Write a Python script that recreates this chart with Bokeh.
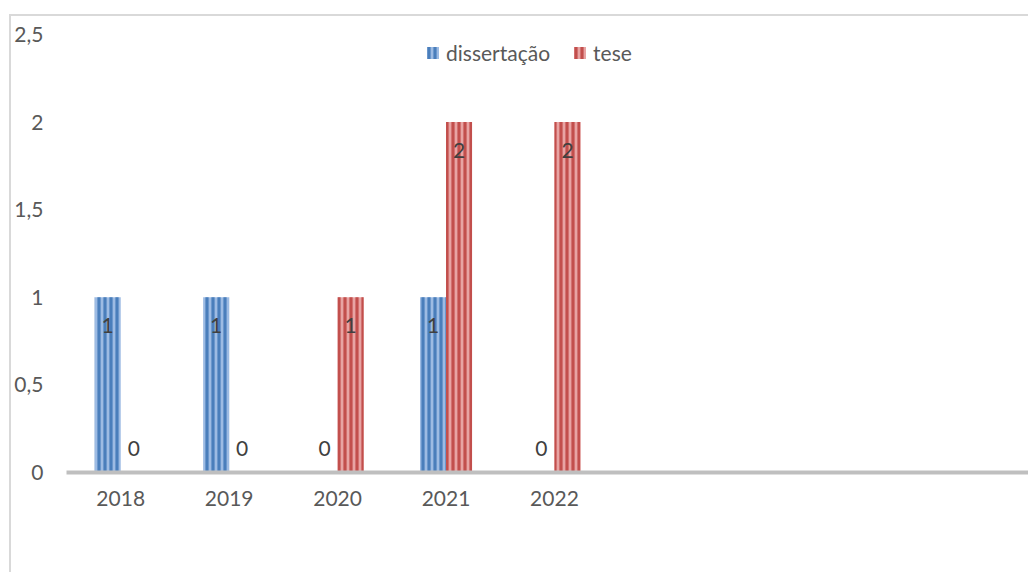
import numpy as np
from bokeh.plotting import figure
from bokeh.models import ColumnDataSource, Range1d, FixedTicker
from bokeh.core.properties import value
from bokeh.transform import dodge
from bokeh.embed import file_html
from bokeh.resources import INLINE

# ---- data ----
years = ["2018", "2019", "2020", "2021", "2022"]
dissertacao = [1, 1, 0, 1, 0]
tese = [0, 0, 1, 2, 2]
y_ticks = [0, 0.5, 1, 1.5, 2, 2.5]
y_tick_labels = ["0", "0,5", "1", "1,5", "2", "2,5"]
series_names = ["dissertação", "tese"]

FONT = "Lato"
FS = "21px"
TXT = "#595959"
n_slots = 8.89          # the category axis continues past the 5 years
bar_w = 0.24

xpos = np.arange(len(years)) + 0.5

def lab_offset(vals):
    return [28 if v > 0 else -24 for v in vals]

src = ColumnDataSource(dict(
    x=xpos, d=dissertacao, t=tese,
    d_lab=[str(v) for v in dissertacao], t_lab=[str(v) for v in tese],
    d_off=lab_offset(dissertacao), t_off=lab_offset(tese),
))

# page offset of the chart box: left 9 px, top 14 px, 2 px border
p = figure(width=1019, height=558, output_backend="svg", toolbar_location=None,
           x_range=Range1d(0, n_slots), y_range=Range1d(0, 2.5),
           min_border_left=55, min_border_right=0, min_border_top=18,
           min_border_bottom=102)
p.styles = {"margin-left": "9px", "margin-top": "14px",
            "border-left": "2px solid #d9d9d9", "border-top": "2px solid #d9d9d9"}
p.outline_line_color = None
p.background_fill_color = "white"
p.border_fill_color = "white"
p.xgrid.visible = False
p.ygrid.visible = False

p.vbar(x=dodge("x", -bar_w / 2, range=p.x_range), top="d", width=bar_w, source=src,
       fill_color="#9dbbe3", line_color=None,
       hatch_pattern="vertical_line", hatch_color="#4a7ebb",
       hatch_scale=6, hatch_weight=3.2, legend_label=series_names[0])
p.vbar(x=dodge("x", bar_w / 2, range=p.x_range), top="t", width=bar_w, source=src,
       fill_color="#e8a4a3", line_color=None,
       hatch_pattern="vertical_line", hatch_color="#c24f4c",
       hatch_scale=6, hatch_weight=3.2, legend_label=series_names[1])

p.text(x=dodge("x", -bar_w / 2, range=p.x_range), y="d", text="d_lab", y_offset="d_off",
       source=src, text_font=value(FONT), text_font_size=FS, text_color="#404040",
       text_align="center", text_baseline="middle")
p.text(x=dodge("x", bar_w / 2, range=p.x_range), y="t", text="t_lab", y_offset="t_off",
       source=src, text_font=value(FONT), text_font_size=FS, text_color="#404040",
       text_align="center", text_baseline="middle")

# x axis
xa = p.xaxis[0]
xa.ticker = FixedTicker(ticks=list(xpos))
xa.major_label_overrides = {float(x): y for x, y in zip(xpos, years)}
xa.axis_line_color = "#bfbfbf"
xa.axis_line_width = 4
xa.major_tick_line_color = None
xa.minor_tick_line_color = None
xa.major_tick_out = 0
xa.major_tick_in = 0
xa.major_label_standoff = 18
xa.major_label_text_font = FONT
xa.major_label_text_font_size = FS
xa.major_label_text_color = TXT

# y axis
ya = p.yaxis[0]
ya.ticker = FixedTicker(ticks=y_ticks)
ya.major_label_overrides = {t: l for t, l in zip(y_ticks, y_tick_labels)}
ya.axis_line_color = None
ya.major_tick_line_color = None
ya.minor_tick_line_color = None
ya.major_tick_out = 0
ya.major_tick_in = 0
ya.major_label_standoff = 23
ya.major_label_text_font = FONT
ya.major_label_text_font_size = FS
ya.major_label_text_color = TXT

# legend
lg = p.legend[0]
lg.orientation = "horizontal"
lg.location = (359, 407)
lg.border_line_color = None
lg.background_fill_alpha = 0
lg.padding = 0
lg.margin = 0
lg.spacing = 22
lg.label_standoff = 6
lg.glyph_width = 15
lg.glyph_height = 15
lg.label_text_font = FONT
lg.label_text_font_size = FS
lg.label_text_color = TXT

open("out.html", "w").write(file_html(p, INLINE))
